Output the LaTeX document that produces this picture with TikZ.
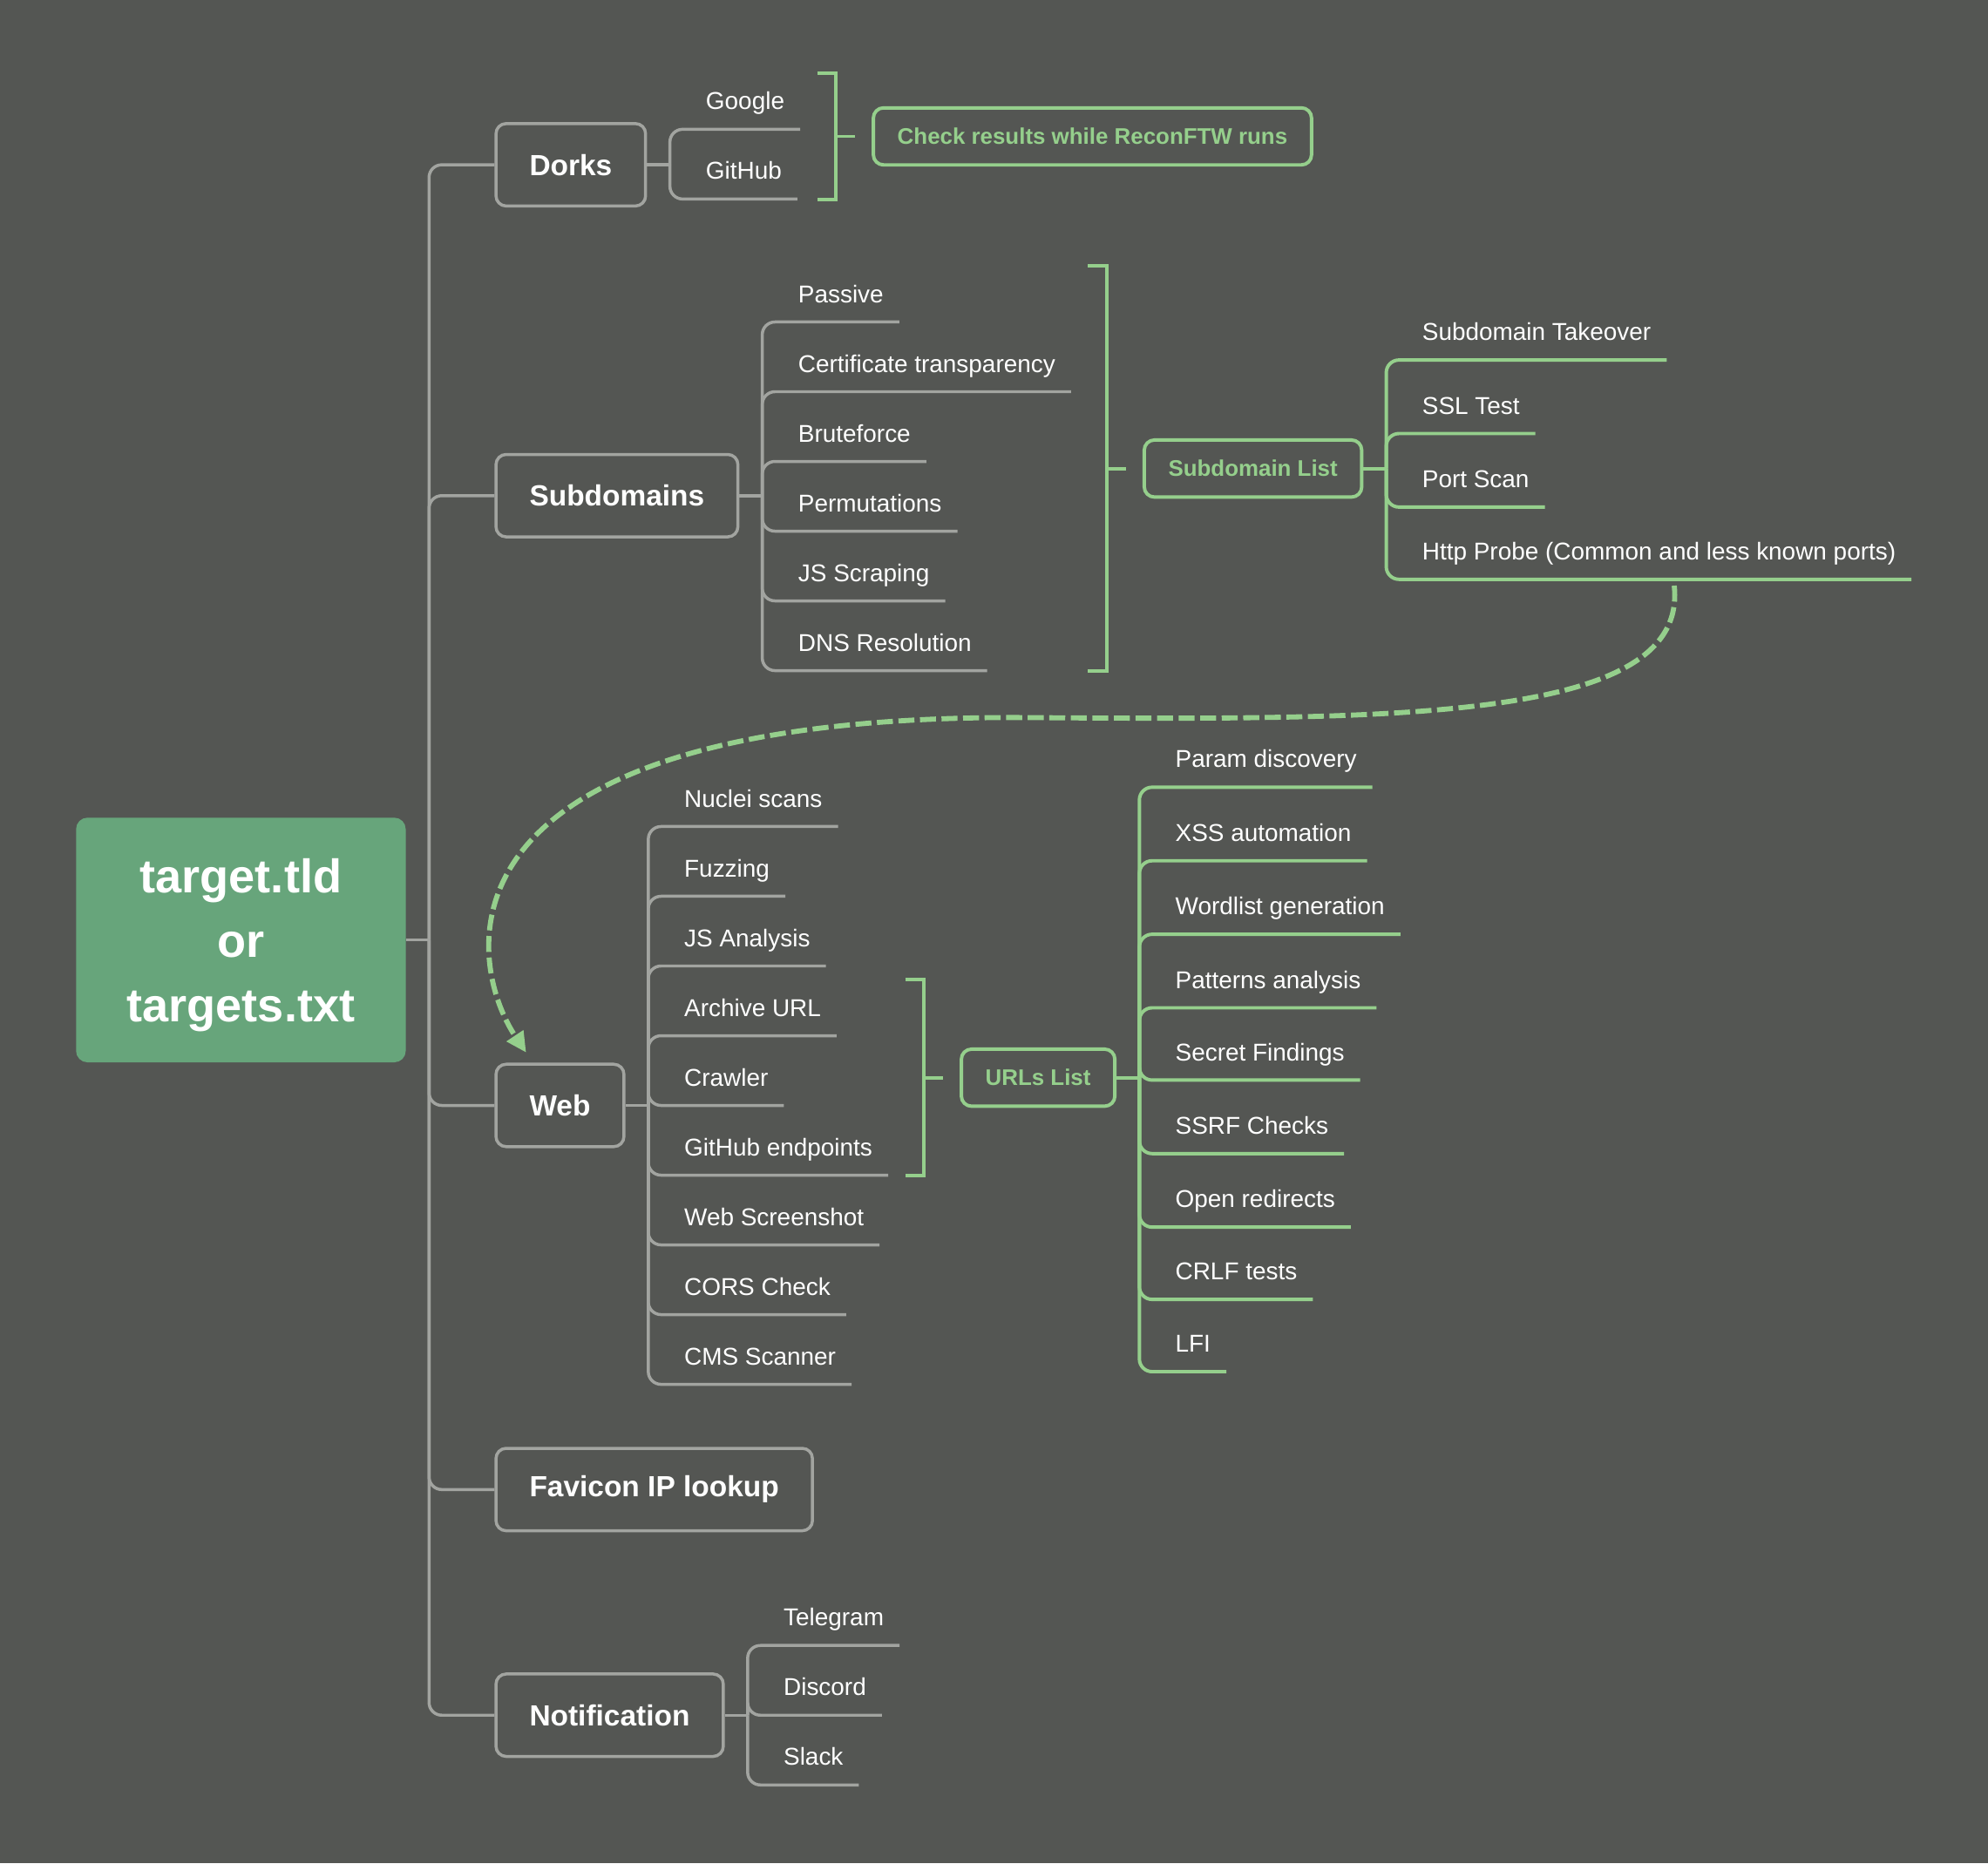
\documentclass[tikz,border=0pt]{standalone}
\usepackage{fontspec}
\setmainfont{Liberation Sans}
\setsansfont{Liberation Sans}
\usepackage{tikz}
\usetikzlibrary{arrows.meta, positioning, calc, fit}
\definecolor{canvas}{HTML}{545653}
\definecolor{branchgray}{HTML}{A2A4A0}
\definecolor{leafgreen}{HTML}{95CF8C}
\definecolor{rootgreen}{HTML}{67A57B}

\begin{document}
\begin{tikzpicture}[x=0.5pt, y=-0.5pt,
  every node/.style={font=\sffamily},
  link/.style={draw=branchgray, line width=1.2pt, rounded corners=5pt},
  greenlink/.style={draw=leafgreen, line width=1.35pt, rounded corners=5pt},
  bracket/.style={draw=leafgreen, line width=1.35pt},
  rootbox/.style={fill=rootgreen, rounded corners=4.5pt, text=white, align=center,
    font=\fontsize{18.6}{25.5}\selectfont\bfseries\sffamily, minimum width=130pt, minimum height=96.5pt},
  topic/.style={draw=branchgray, line width=1.2pt, rounded corners=4pt, text=white, anchor=west,
    font=\fontsize{11.5}{13}\selectfont\bfseries\sffamily, inner xsep=13.2pt, minimum height=32.5pt},
  summary/.style={draw=leafgreen, line width=1.35pt, rounded corners=4pt, text=leafgreen, anchor=west,
    font=\fontsize{8.9}{10}\selectfont\bfseries\sffamily, inner xsep=9.5pt, minimum height=22.5pt},
  leaf/.style={text=white, font=\fontsize{9.6}{11}\selectfont\sffamily, anchor=south west,
    inner xsep=6pt, inner ysep=7.5pt, text height=6.5pt, text depth=0pt,
    execute at begin node={\hspace*{8pt}}},
  flow/.style={draw=leafgreen, line width=2pt, dash pattern=on 6.3pt off 2.2pt,
    -{Triangle[length=8pt,width=7.5pt]}}
]
  \fill[canvas] (0,0) rectangle (1568,1470);

  % #1 line style, #2 join, #3 name, #4 underline y, #5 text
  \def\twig#1#2#3#4#5{%
    \node[leaf] (#3) at (#2 |- 0,#4) {#5};
    \draw[#1] (#2) |- (#3.south east);
  }
  % #1 fitted group, #2 summary box
  \def\groupbracket#1#2{%
    \draw[bracket] ([xshift=6.5pt]#1.north east) -| ([xshift=14pt]#1.east) |- ([xshift=6.5pt]#1.south east);
    \draw[bracket] ([xshift=14pt]#1.east) -- ([xshift=-6.5pt]#2.west);
  }

  \node[rootbox] (root) at (190,741.5) {\rule{0pt}{17.6pt}target.tld\\or\\targets.txt};
  \coordinate (rj) at ([xshift=9pt]root.east);

  \node[topic] (dorks) at (390,130) {Dorks};
  \node[topic] (subdomains) at (390,391) {Subdomains};
  \node[topic] (web) at (390,872) {Web};
  \node[topic] (favicon) at (390,1175) {Favicon IP lookup};
  \node[topic] (notify) at (390,1353) {Notification};

  \draw[link] (root.east) -- (rj);
  \draw[link] (rj) |- (dorks.west);
  \draw[link] (rj) |- (subdomains.west);
  \draw[link] (rj) |- (web.west);
  \draw[link] (rj) |- (favicon.west);
  \draw[link] (rj) |- (notify.west);

  % dorks
  \coordinate (dj) at ([xshift=9pt]dorks.east);
  \draw[link] (dorks.east) -- (dj);
  \twig{link}{dj}{google}{102}{Google}
  \twig{link}{dj}{github}{157}{GitHub}
  \node[fit=(google)(github), inner sep=0pt] (dorkset) {};
  \node[summary] (check) at ([xshift=28pt]dorkset.east) {Check results while ReconFTW runs};
  \groupbracket{dorkset}{check}

  % subdomains
  \coordinate (sj) at ([xshift=9pt]subdomains.east);
  \draw[link] (subdomains.east) -- (sj);
  \twig{link}{sj}{passive}{254}{Passive}
  \twig{link}{sj}{certs}{309}{Certificate transparency}
  \twig{link}{sj}{brute}{364}{Bruteforce}
  \twig{link}{sj}{perms}{419}{Permutations}
  \twig{link}{sj}{jsscrap}{474}{JS Scraping}
  \twig{link}{sj}{dnsres}{529}{DNS Resolution}
  \node[fit=(passive)(certs)(brute)(perms)(jsscrap)(dnsres), inner sep=0pt] (subset) {};
  \node[summary] (sublist) at ([xshift=28pt]subset.east) {Subdomain List};
  \groupbracket{subset}{sublist}

  \coordinate (lj) at ([xshift=9pt]sublist.east);
  \draw[greenlink] (sublist.east) -- (lj);
  \twig{greenlink}{lj}{takeover}{284}{Subdomain Takeover}
  \twig{greenlink}{lj}{ssltest}{342}{SSL Test}
  \twig{greenlink}{lj}{portscan}{400}{Port Scan}
  \twig{greenlink}{lj}{probe}{457}{Http Probe (Common and less known ports)}

  % web
  \coordinate (wj) at ([xshift=9pt]web.east);
  \draw[link] (web.east) -- (wj);
  \twig{link}{wj}{nuclei}{652}{Nuclei scans}
  \twig{link}{wj}{fuzzing}{707}{Fuzzing}
  \twig{link}{wj}{jsanalysis}{762}{JS Analysis}
  \twig{link}{wj}{archive}{817}{Archive URL}
  \twig{link}{wj}{crawler}{872}{Crawler}
  \twig{link}{wj}{ghends}{927}{GitHub endpoints}
  \twig{link}{wj}{screenshot}{982}{Web Screenshot}
  \twig{link}{wj}{cors}{1037}{CORS Check}
  \twig{link}{wj}{cms}{1092}{CMS Scanner}
  \node[fit=(archive)(crawler)(ghends), inner sep=0pt] (urlset) {};
  \node[summary] (urllist) at ([xshift=28pt]urlset.east) {URLs List};
  \groupbracket{urlset}{urllist}

  \coordinate (uj) at ([xshift=9pt]urllist.east);
  \draw[greenlink] (urllist.east) -- (uj);
  \twig{greenlink}{uj}{params}{621}{Param discovery}
  \twig{greenlink}{uj}{xss}{679}{XSS automation}
  \twig{greenlink}{uj}{wordlist}{737}{Wordlist generation}
  \twig{greenlink}{uj}{patterns}{795}{Patterns analysis}
  \twig{greenlink}{uj}{secrets}{852}{Secret Findings}
  \twig{greenlink}{uj}{ssrf}{910}{SSRF Checks}
  \twig{greenlink}{uj}{redirects}{968}{Open redirects}
  \twig{greenlink}{uj}{crlf}{1025}{CRLF tests}
  \twig{greenlink}{uj}{lfi}{1082}{LFI}

  % notification
  \coordinate (nj) at ([xshift=9pt]notify.east);
  \draw[link] (notify.east) -- (nj);
  \twig{link}{nj}{telegram}{1298}{Telegram}
  \twig{link}{nj}{discord}{1353}{Discord}
  \twig{link}{nj}{slack}{1408}{Slack}

  % live hosts feed the web stage
  \draw[flow] ([xshift=10pt,yshift=-2.5pt]probe.south)
    .. controls (1332,570) and (1100,568) .. (800,566)
    .. controls (330,566) and (368,760) .. ([xshift=12.5pt,yshift=4pt]web.north west);
\end{tikzpicture}
\end{document}
